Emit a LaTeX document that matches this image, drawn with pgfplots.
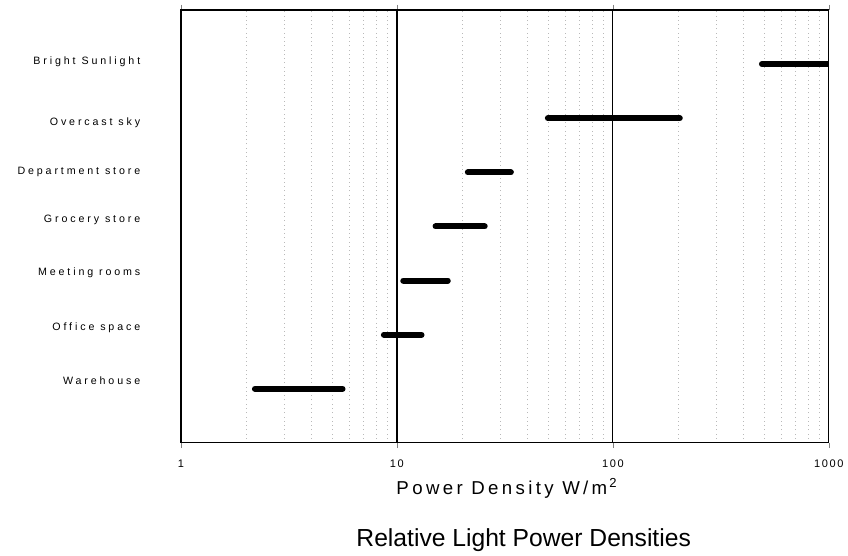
\documentclass[border=0pt]{standalone}
\usepackage{pgfplots}
\pgfplotsset{compat=1.18}
\usepackage{fontspec}
\setmainfont{Liberation Sans}
\newfontfamily\lab[LetterSpace=27]{Liberation Sans}
\newfontfamily\tlab[LetterSpace=15]{Liberation Sans}
\newfontfamily\xlab[LetterSpace=18]{Liberation Sans}
\begin{document}
\begin{tikzpicture}
\begin{axis}[
  name=ax,
  scale only axis,
  width=486pt, height=324.75pt,
  xmode=log, log basis x=10,
  xmin=1, xmax=1000, ymin=0, ymax=8,
  xtick={1,10,100,1000},
  xticklabels={1,10,100,1000},
  minor xtick={2,3,4,5,6,7,8,9,20,30,40,50,60,70,80,90,200,300,400,500,600,700,800,900},
  xticklabel style={font=\tlab\fontsize{8.25}{9}\selectfont, yshift=-5pt},
  ytick={1.18,2.16,3.16,4.14,5.03,5.95,7.06},
  yticklabels={Warehouse,Office space,Meeting rooms,Grocery store,Department store,Overcast sky,Bright Sunlight},
  yticklabel style={font=\lab\fontsize{8}{9}\selectfont, xshift=-27pt, yshift=-1pt},
  ytick style={draw=none},
  xtick align=outside,
  major tick length=4pt,
  minor tick length=0pt,
  xmajorgrids, xminorgrids,
  major grid style={black, line width=0.9pt},
  minor grid style={gray!55, line width=0.5pt, dash pattern=on 0.6pt off 2.6pt},
  axis line style={black, line width=0.8pt},
  xlabel={Power Density W\,/m\textsuperscript{\,2}},
  xlabel style={at={(axis description cs:0.503,-0.104)}, anchor=center, font=\xlab\fontsize{14}{16}\selectfont},
  title={Relative Light Power Densities},
  title style={at={(axis description cs:0.529,-0.242)}, anchor=center, font=\fontsize{18.5}{20}\selectfont},
]
\addplot[black, line width=4.5pt, line cap=round] coordinates {(2.2,1) (5.6,1)};
\addplot[black, line width=4.5pt, line cap=round] coordinates {(8.7,2) (13,2)};
\addplot[black, line width=4.5pt, line cap=round] coordinates {(10.7,3) (17.2,3)};
\addplot[black, line width=4.5pt, line cap=round] coordinates {(15.1,4) (25.5,4)};
\addplot[black, line width=4.5pt, line cap=round] coordinates {(21.3,5) (33.7,5)};
\addplot[black, line width=4.5pt, line cap=round] coordinates {(50,6) (204,6)};
\addplot[black, line width=4.5pt, line cap=round] coordinates {(490,7) (1000,7)};
\end{axis}
\path (ax.south west) ++(-135.75pt,-81pt) coordinate (bl);
\path (ax.north east) ++(14.25pt,7.5pt) coordinate (tr);
\path (bl) rectangle (tr);
\end{tikzpicture}
\end{document}
